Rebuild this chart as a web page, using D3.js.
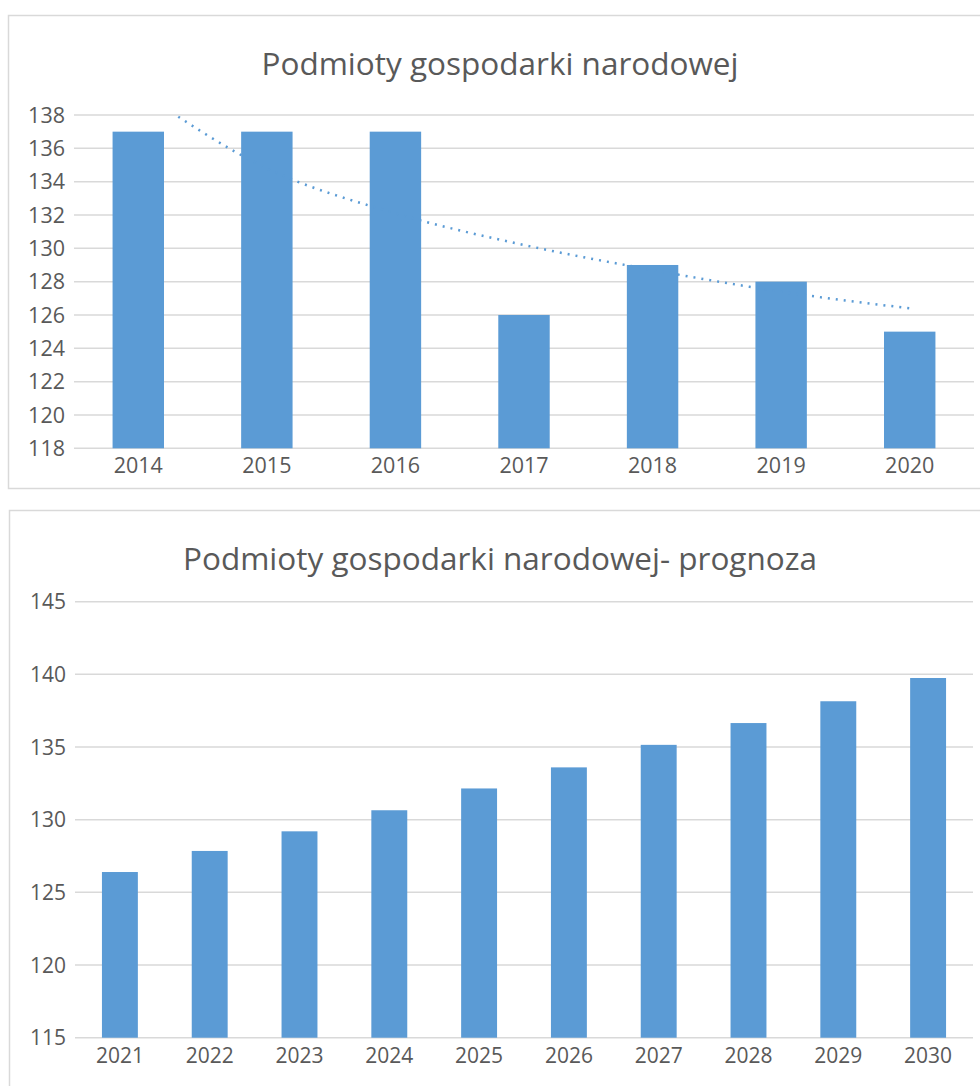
<!DOCTYPE html>
<html>
<head>
<meta charset="utf-8">
<script src="https://cdn.jsdelivr.net/npm/d3@7"></script>
<style>
  body { margin: 0; background: #fff; }
  svg text { font-family: "Open Sans", sans-serif; fill: #595959; }
</style>
</head>
<body>
<div id="chart"></div>
<script>
// Top chart data
const yearsA = ["2014", "2015", "2016", "2017", "2018", "2019", "2020"];
const valuesA = [137, 137, 137, 126, 129, 128, 125];
// dotted trend line, values at each year
const trendA = [139.5, 134.8, 132.1, 130.2, 128.7, 127.4, 126.4];
const ticksA = [118, 120, 122, 124, 126, 128, 130, 132, 134, 136, 138];

// Bottom chart data (forecast)
const yearsB = ["2021", "2022", "2023", "2024", "2025", "2026", "2027", "2028", "2029", "2030"];
const valuesB = [126.4, 127.85, 129.2, 130.65, 132.15, 133.6, 135.15, 136.65, 138.15, 139.75];
const ticksB = [115, 120, 125, 130, 135, 140, 145];

const barColor = "#5b9bd5";
const gridColor = "#d9d9d9";

const svg = d3.select("#chart")
  .append("svg")
  .attr("width", 980)
  .attr("height", 1086);

function drawChart(cfg) {
  const g = svg.append("g");

  // outer frame
  g.append("rect")
    .attr("x", cfg.box[0] + 0.5)
    .attr("y", cfg.box[1] + 0.5)
    .attr("width", cfg.box[2])
    .attr("height", cfg.box[3])
    .attr("fill", "none")
    .attr("stroke", gridColor)
    .attr("stroke-width", 1.5);

  const x = d3.scaleBand()
    .domain(cfg.years)
    .range([cfg.left, cfg.right])
    .paddingInner(0.6)
    .paddingOuter(0.3);

  const y = d3.scaleLinear()
    .domain([cfg.ticks[0], cfg.ticks[cfg.ticks.length - 1]])
    .range([cfg.bottom, cfg.top]);

  // gridlines
  g.selectAll(".grid")
    .data(cfg.ticks)
    .enter()
    .append("line")
    .attr("x1", cfg.left)
    .attr("x2", cfg.right)
    .attr("y1", d => y(d))
    .attr("y2", d => y(d))
    .attr("stroke", gridColor)
    .attr("stroke-width", 1.5);

  // y labels
  g.selectAll(".ylab")
    .data(cfg.ticks)
    .enter()
    .append("text")
    .attr("x", cfg.left - 9)
    .attr("y", d => y(d))
    .attr("dy", "0.36em")
    .attr("text-anchor", "end")
    .style("font-size", cfg.fontSize + "px")
    .text(d => d);

  // bars
  g.selectAll(".bar")
    .data(cfg.values)
    .enter()
    .append("rect")
    .attr("x", (d, i) => x(cfg.years[i]))
    .attr("y", d => y(d))
    .attr("width", x.bandwidth())
    .attr("height", d => cfg.bottom - y(d))
    .attr("fill", barColor);

  // x labels
  g.selectAll(".xlab")
    .data(cfg.years)
    .enter()
    .append("text")
    .attr("x", d => x(d) + x.bandwidth() / 2)
    .attr("y", cfg.xLabelY)
    .attr("text-anchor", "middle")
    .style("font-size", cfg.fontSize + "px")
    .text(d => d);

  // title
  g.append("text")
    .attr("x", cfg.titleX)
    .attr("y", cfg.titleY)
    .attr("text-anchor", "middle")
    .style("font-size", cfg.titleSize + "px")
    .text(cfg.title);

  if (cfg.trend) {
    const clipId = "clip-" + cfg.years[0];
    svg.append("clipPath")
      .attr("id", clipId)
      .append("rect")
      .attr("x", cfg.left)
      .attr("y", cfg.top)
      .attr("width", cfg.right - cfg.left)
      .attr("height", cfg.bottom - cfg.top);

    const line = d3.line()
      .x((d, i) => x(cfg.years[i]) + x.bandwidth() / 2)
      .y(d => y(d))
      .curve(d3.curveMonotoneX);

    g.append("path")
      .datum(cfg.trend)
      .attr("clip-path", `url(#${clipId})`)
      .attr("d", line)
      .attr("fill", "none")
      .attr("stroke", barColor)
      .attr("stroke-width", 2.5)
      .attr("stroke-dasharray", "2,6");
  }
}

drawChart({
  box: [8, 15, 990, 473],
  years: yearsA,
  values: valuesA,
  trend: trendA,
  ticks: ticksA,
  left: 74, right: 974,
  top: 115, bottom: 448.3,
  xLabelY: 473,
  fontSize: 21.5,
  title: "Podmioty gospodarki narodowej",
  titleX: 500, titleY: 75,
  titleSize: 31.5
});

drawChart({
  box: [9, 510, 990, 600],
  years: yearsB,
  values: valuesB,
  ticks: ticksB,
  left: 75, right: 973,
  top: 601.7, bottom: 1037.7,
  xLabelY: 1063,
  fontSize: 21,
  title: "Podmioty gospodarki narodowej- prognoza",
  titleX: 500, titleY: 570,
  titleSize: 31.5
});
</script>
</body>
</html>
